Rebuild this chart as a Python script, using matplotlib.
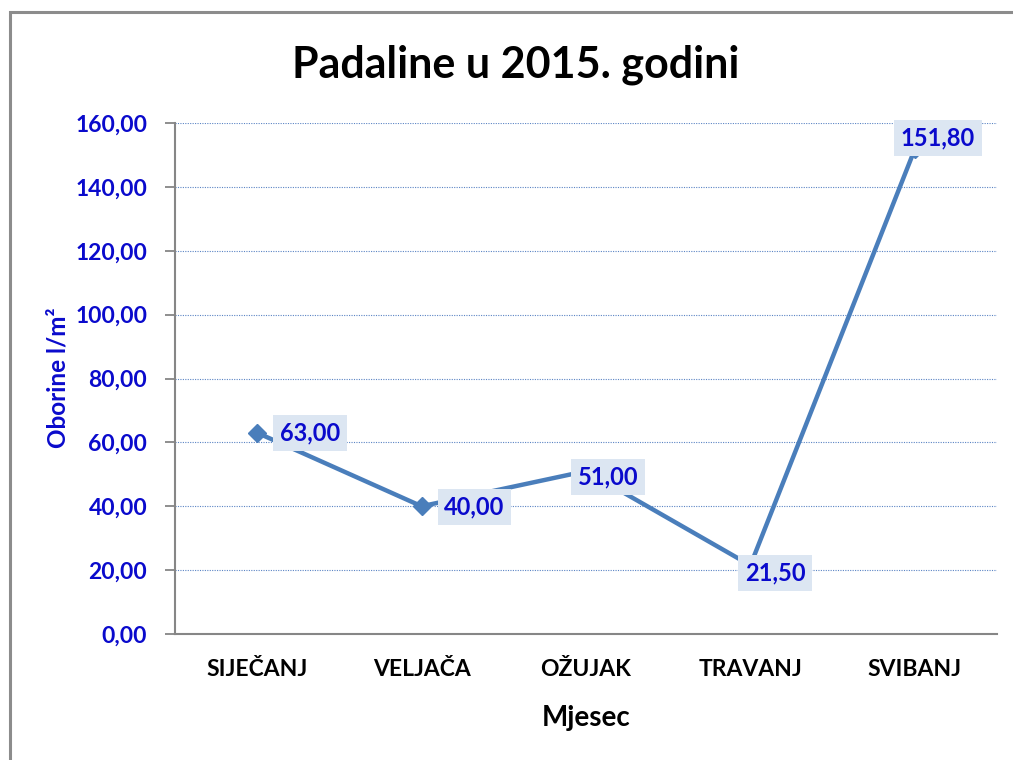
import matplotlib
matplotlib.use("Agg")
import matplotlib.pyplot as plt
from matplotlib.patches import Rectangle

months = ["SIJEČANJ", "VELJAČA", "OŽUJAK", "TRAVANJ", "SVIBANJ"]
rain = [63.00, 40.00, 51.00, 21.50, 151.80]
yticks = [0, 20, 40, 60, 80, 100, 120, 140, 160]
# label offsets (pixels) relative to the data point
label_offsets = [(53, 0), (53, -1), (22, -6), (25, -8), (23, 11)]

FONT = ["Lato", "DejaVu Sans"]
BLUE_TXT = "#0a0acc"
LINE_C = "#4a7ebb"

fig = plt.figure(figsize=(10.13, 7.6), dpi=100)
fig.patch.set_facecolor("white")

# outer chart border
fig.patches.append(Rectangle((10 / 1013, -0.05), 1.2, 1 - 12 / 760 + 0.05,
                             transform=fig.transFigure, fill=False,
                             edgecolor="#8c8c8c", linewidth=2.2))

ax = fig.add_axes([175 / 1013, 1 - 634 / 760, (997 - 175) / 1013, (634 - 123) / 760])
x = list(range(len(months)))
ax.plot(x, rain, color=LINE_C, linewidth=3.2, marker="D", markersize=9.5,
        markerfacecolor=LINE_C, markeredgecolor=LINE_C, zorder=3)

ax.set_xlim(-0.5, len(months) - 0.5)
ax.set_ylim(0, 160)
ax.set_yticks(yticks)
ax.set_yticklabels([f"{v:.2f}".replace(".", ",") for v in yticks],
                   fontfamily=FONT, fontweight="bold", fontsize=16.5, color=BLUE_TXT)
ax.set_xticks(x)
ax.set_xticklabels(months, fontfamily=FONT, fontweight="bold", fontsize=16.5, color="black")

ax.tick_params(axis="y", length=7, width=1.3, color="#868686", pad=13)
ax.tick_params(axis="x", length=0, pad=18)

for s in ["top", "right"]:
    ax.spines[s].set_visible(False)
for s in ["left", "bottom"]:
    ax.spines[s].set_color("#868686")
    ax.spines[s].set_linewidth(1.5)

ax.yaxis.grid(True, color="#5b84c4", linestyle=(0, (1, 1.2)), linewidth=0.8)
ax.set_axisbelow(True)

for xi, v, (dx, dy) in zip(x, rain, label_offsets):
    ax.annotate(f"{v:.2f}".replace(".", ","), xy=(xi, v), xytext=(dx, dy),
                textcoords="offset pixels", ha="center", va="center",
                fontfamily=FONT, fontweight="bold", fontsize=17, color=BLUE_TXT,
                bbox=dict(boxstyle="square,pad=0.28", facecolor="#dce6f2", edgecolor="none"),
                zorder=5)

ax.set_ylabel("Oborine l/m²", fontfamily=FONT, fontweight="bold", fontsize=17.5,
              color=BLUE_TXT, va="center")
ax.yaxis.set_label_coords(-117 / 822, (634 - 378) / 511)
ax.set_xlabel("Mjesec", fontfamily=FONT, fontweight="bold", fontsize=20, color="black",
              va="center")
ax.xaxis.set_label_coords(0.5, -(718 - 634) / 511)

fig.text(516 / 1013, 1 - 65 / 760, "Padaline u 2015. godini", ha="center", va="center",
         fontfamily=FONT, fontweight="bold", fontsize=31, color="black")

fig.savefig("out.png", dpi=100)
